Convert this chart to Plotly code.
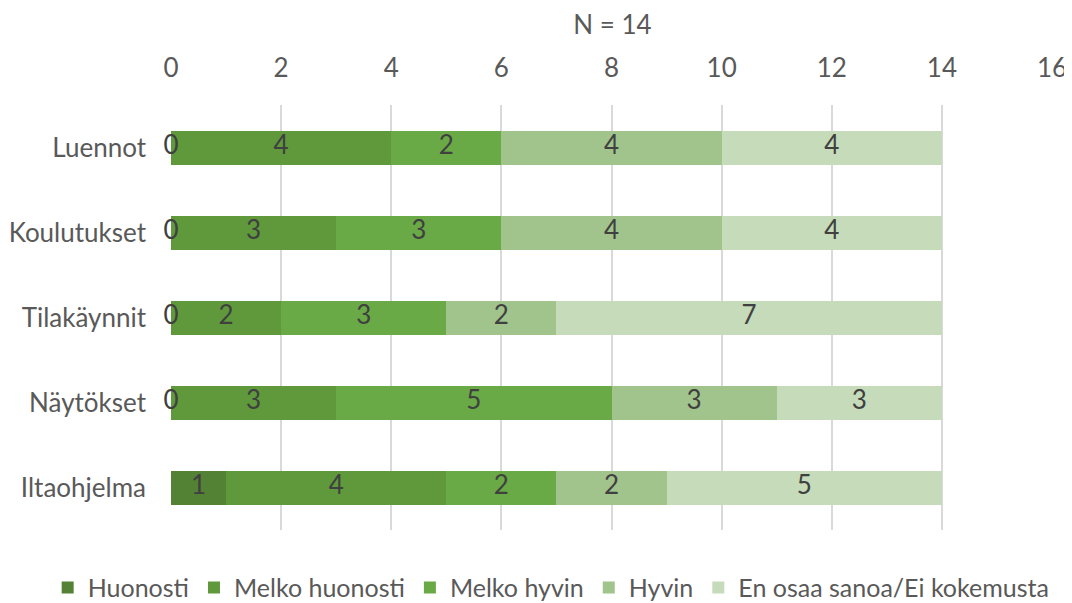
import plotly.graph_objects as go

categories = ["Luennot", "Koulutukset", "Tilakäynnit", "Näytökset", "Iltaohjelma"]
series_names = ["Huonosti", "Melko huonosti", "Melko hyvin", "Hyvin", "En osaa sanoa/Ei kokemusta"]
huonosti = [0, 0, 0, 0, 1]
melko_huonosti = [4, 3, 2, 3, 4]
melko_hyvin = [2, 3, 3, 5, 2]
hyvin = [4, 4, 2, 3, 2]
en_osaa = [4, 4, 7, 3, 5]
colors = ["#548235", "#5F993C", "#6AAA46", "#A0C48C", "#C5DBBA"]
title_text = "N = 14"
tick_vals = [0, 2, 4, 6, 8, 10, 12, 14, 16]

series = [huonosti, melko_huonosti, melko_hyvin, hyvin, en_osaa]
FONT = "Lato, sans-serif"
FS = 26

fig = go.Figure()
for name, vals, col in zip(series_names, series, colors):
    fig.add_trace(go.Bar(
        y=categories, x=vals, name=name, orientation="h",
        marker=dict(color=col, line=dict(width=0)),
        textposition="none", hoverinfo="x+name",
    ))

# data labels at segment centers
lx, ly, lt = [], [], []
for i, cat in enumerate(categories):
    cum = 0
    for vals in series:
        v = vals[i]
        lx.append(cum + v / 2)
        ly.append(cat)
        lt.append(str(v))
        cum += v
fig.add_trace(go.Scatter(
    x=lx, y=ly, text=lt, mode="text", showlegend=False, cliponaxis=False,
    textfont=dict(family=FONT, size=FS, color="#404040"), hoverinfo="skip",
))

# page body has an 8px default margin, so figure is 1064x595 drawn at (8, 8)
fig.update_layout(
    barmode="stack",
    bargap=0.6,
    width=1064, height=595,
    margin=dict(l=163, r=20, t=97, b=73, autoexpand=False),
    paper_bgcolor="white", plot_bgcolor="white",
    title=dict(text=title_text, x=0.568, xanchor="center", y=0.971, yanchor="middle",
               font=dict(family=FONT, size=FS, color="#595959")),
    xaxis=dict(side="top", range=[0, 16], tickvals=tick_vals, showgrid=True,
               gridcolor="#D9D9D9", gridwidth=1.5, zeroline=False,
               tickfont=dict(family=FONT, size=FS, color="#595959"),
               ticklabelstandoff=22, showline=False),
    yaxis=dict(autorange="reversed", showgrid=False, zeroline=False, showline=False,
               tickfont=dict(family=FONT, size=FS, color="#595959"), ticks="",
               ticklabelstandoff=24),
    legend=dict(orientation="h", x=-0.14, xanchor="left",
                y=-0.136, yanchor="middle",
                font=dict(family=FONT, size=25, color="#595959"),
                traceorder="normal", itemwidth=30, tracegroupgap=0),
    font=dict(family=FONT),
)

fig.write_html("out.html")
